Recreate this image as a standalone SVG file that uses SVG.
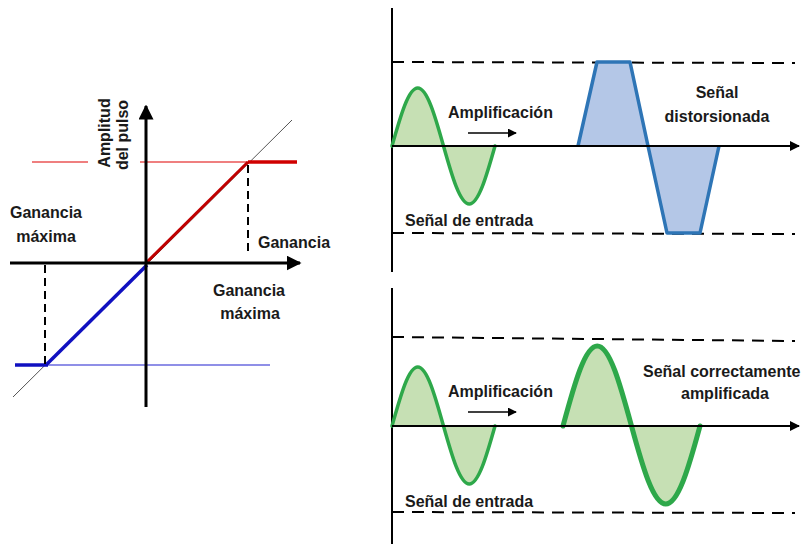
<svg xmlns="http://www.w3.org/2000/svg" width="806" height="544" viewBox="0 0 806 544">
<defs>
<style>
text{font-family:"Liberation Sans",Arial,sans-serif;font-weight:bold;font-size:16px;fill:#1a1a1a}
.ax{stroke:#000;stroke-width:3;fill:none}
.ax2{stroke:#000;stroke-width:2;fill:none}
.dash{stroke:#000;stroke-width:2;stroke-dasharray:12 8;fill:none}
.dashv{stroke:#000;stroke-width:2;stroke-dasharray:8 5;fill:none}
.gfill{fill:#c6e0b4;stroke:none}
.sine{stroke:#2ea84a;stroke-width:3.5;fill:none;stroke-linejoin:round;stroke-linecap:round}
.big{stroke-width:5}
.bfill{fill:#b4c7e7;stroke:none}
.trap{stroke:#2e75b6;stroke-width:3.5;fill:none;stroke-linejoin:round}
</style>
<marker id="ah" viewBox="0 0 10 10" refX="9" refY="5" markerWidth="5" markerHeight="5" markerUnits="strokeWidth" orient="auto"><path d="M0,0 L10,5 L0,10 z" fill="#000"/></marker>
<marker id="ahs" viewBox="0 0 10 10" refX="9" refY="5" markerWidth="6" markerHeight="6" markerUnits="strokeWidth" orient="auto"><path d="M0,0 L10,5 L0,10 z" fill="#000"/></marker>
</defs>
<rect width="806" height="544" fill="#fff"/>

<g id="left-graph">
<line x1="13" y1="397" x2="292" y2="120" stroke="#555" stroke-width="1"/>
<line x1="32" y1="162" x2="88" y2="162" stroke="#e00000" stroke-width="1.2"/>
<line x1="140" y1="162" x2="248" y2="162" stroke="#e00000" stroke-width="1.2"/>
<line x1="47" y1="365" x2="270" y2="365" stroke="#2020d0" stroke-width="1.2"/>
<line x1="248" y1="162" x2="297" y2="162" stroke="#d00000" stroke-width="3.5"/>
<line x1="146" y1="263" x2="248" y2="162" stroke="#c00000" stroke-width="3"/>
<line x1="147" y1="265" x2="47" y2="364" stroke="#1010c0" stroke-width="3.5"/>
<line x1="15" y1="365" x2="48" y2="365" stroke="#1010c0" stroke-width="3.5"/>
<line class="dashv" x1="248" y1="165" x2="248" y2="256"/>
<line class="dashv" x1="45" y1="265" x2="45" y2="365"/>
<line class="ax" x1="10" y1="263" x2="300" y2="263" marker-end="url(#ah)"/>
<line class="ax" x1="146" y1="407" x2="146" y2="106" marker-end="url(#ah)"/>
<text transform="translate(110,133) rotate(-90)" text-anchor="middle">Amplitud</text>
<text transform="translate(128,135) rotate(-90)" text-anchor="middle">del pulso</text>
<text x="46" y="218" text-anchor="middle">Ganancia</text>
<text x="46" y="242" text-anchor="middle">máxima</text>
<text x="258" y="248">Ganancia</text>
<text x="249" y="296" text-anchor="middle">Ganancia</text>
<text x="250" y="319" text-anchor="middle">máxima</text>
</g>

<g id="top-panel">
<line class="ax2" x1="392" y1="8" x2="392" y2="272"/>
<line class="dash" x1="392" y1="62" x2="795" y2="63"/>
<line class="dash" x1="392" y1="233" x2="795" y2="234"/>
<path class="gfill" d="M392,146 C400.6,115.5 408.5,88 417.75,88 C427,88 435,115.5 443.5,146 C452.1,176.5 460,204 469.25,204 C478.5,204 486.4,176.5 495,146 Z"/>
<path class="sine" d="M392,146 C400.6,115.5 408.5,88 417.75,88 C427,88 435,115.5 443.5,146 C452.1,176.5 460,204 469.25,204 C478.5,204 486.4,176.5 495,146"/>
<path class="bfill" d="M578,146 L597,62 L630,62 L648,146 L667,233 L700,233 L719,146 Z"/>
<path class="trap" d="M578,146 L597,62 L630,62 L648,146 L667,233 L700,233 L719,146"/>
<line class="ax2" x1="392" y1="146" x2="799" y2="146" marker-end="url(#ah)"/>
<line x1="468" y1="133" x2="516" y2="133" stroke="#000" stroke-width="1.5" marker-end="url(#ahs)"/>
<text x="448" y="118">Amplificación</text>
<text x="405" y="226">Señal de entrada</text>
<text x="717" y="98" text-anchor="middle">Señal</text>
<text x="717" y="122" text-anchor="middle">distorsionada</text>
</g>

<g id="bottom-panel">
<line class="ax2" x1="392" y1="288" x2="392" y2="544"/>
<line class="dash" x1="392" y1="337" x2="795" y2="341"/>
<line class="dash" x1="392" y1="512" x2="795" y2="513"/>
<path class="gfill" d="M392,426 C400.6,395.5 408.5,367 417.75,367 C427,367 435,395.5 443.5,426 C452.1,456.5 460,484 469.25,484 C478.5,484 486.4,456.5 495,426 Z"/>
<path class="sine" d="M392,426 C400.6,395.5 408.5,367 417.75,367 C427,367 435,395.5 443.5,426 C452.1,456.5 460,484 469.25,484 C478.5,484 486.4,456.5 495,426"/>
<path class="gfill" d="M563,426 C574.4,384 584.9,346 597.25,346 C609.6,346 620.1,384 631.5,426 C642.9,468 653.4,504 665.75,504 C678.1,504 688.6,468 700,426 Z"/>
<path class="sine big" d="M563,426 C574.4,384 584.9,346 597.25,346 C609.6,346 620.1,384 631.5,426 C642.9,468 653.4,504 665.75,504 C678.1,504 688.6,468 700,426"/>
<line class="ax2" x1="392" y1="426" x2="799" y2="426" marker-end="url(#ah)"/>
<line x1="468" y1="412" x2="516" y2="412" stroke="#000" stroke-width="1.5" marker-end="url(#ahs)"/>
<text x="448" y="397">Amplificación</text>
<text x="405" y="507">Señal de entrada</text>
<text x="643" y="377">Señal correctamente</text>
<text x="725" y="399" text-anchor="middle">amplificada</text>
</g>
</svg>
